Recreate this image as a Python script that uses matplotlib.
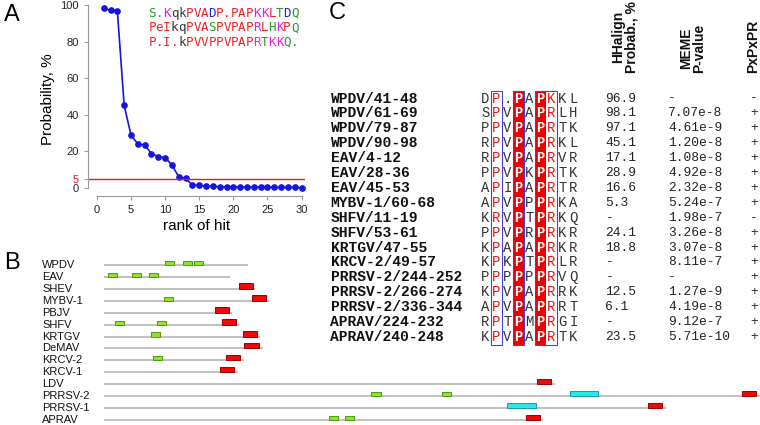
import numpy as np
import matplotlib
matplotlib.use("Agg")
from matplotlib import pyplot as plt
from matplotlib.patches import Rectangle

plt.rcParams['font.family'] = ['Liberation Sans', 'DejaVu Sans']

# ---- panel A data ----
ranks = np.arange(1, 31)
probs = [98.1, 97.1, 96.9, 45.1, 28.9, 24.1, 23.5, 18.8, 17.1, 16.6, 12.5, 6.1,
         5.3, 1.5, 1.4, 1.0, 0.8, 0.7, 0.6, 0.6, 0.5, 0.5, 0.5, 0.4, 0.4, 0.3,
         0.3, 0.3, 0.3, 0.2]
cutoff = 5
hmm_lines = ["S.KqkPVADP.PAPKKLTDQ", "PeIkqPVASPVPAPRLHKPQ", "P.I.kPVVPPVPAPRTKKQ."]
hmm_colors = ["ggmkkrrrbrrrrrmmrgbg", "rrrkkrrrgrrrrrmrgmrg", "rrrrkrrrrrrrrrmgmmgg"]
cmap = {'r': '#EE2020', 'g': '#2A992A', 'm': '#DD22DD', 'b': '#2222CC', 'k': '#333333'}

# ---- panel B data (residue positions) ----
viruses = ["WPDV", "EAV", "SHEV", "MYBV-1", "PBJV", "SHFV", "KRTGV", "DeMAV",
           "KRCV-2", "KRCV-1", "LDV", "PRRSV-2", "PRRSV-1", "APRAV"]
lengths = [144, 126, 151, 165, 128, 135, 156, 159, 140, 134, 451, 690, 562, 439]
green_boxes = {"WPDV": [(61, 69), (79, 87), (90, 98)],
               "EAV": [(4, 12), (28, 36), (45, 53)],
               "MYBV-1": [(60, 68)],
               "SHFV": [(11, 19), (53, 61)],
               "KRTGV": [(47, 55)],
               "KRCV-2": [(49, 57)],
               "PRRSV-2": [(267, 276), (338, 346)],
               "APRAV": [(225, 233), (241, 249)]}
red_boxes = {"SHEV": (135, 149), "MYBV-1": (148, 162), "PBJV": (111, 125),
             "SHFV": (118, 132), "KRTGV": (139, 153), "DeMAV": (140, 155),
             "KRCV-2": (122, 136), "KRCV-1": (116, 130), "LDV": (433, 447),
             "PRRSV-2": (638, 652), "PRRSV-1": (544, 558), "APRAV": (422, 436)}
cyan_boxes = {"PRRSV-2": (466, 494), "PRRSV-1": (403, 432)}

# ---- panel C data ----
names = ["WPDV/41-48", "WPDV/61-69", "WPDV/79-87", "WPDV/90-98", "EAV/4-12",
         "EAV/28-36", "EAV/45-53", "MYBV-1/60-68", "SHFV/11-19", "SHFV/53-61",
         "KRTGV/47-55", "KRCV-2/49-57", "PRRSV-2/244-252", "PRRSV-2/266-274",
         "PRRSV-2/336-344", "APRAV/224-232", "APRAV/240-248"]
seqs = ["DP.PAPKKL", "SPVPAPRLH", "PPVPAPRTK", "RPVPAPRKL", "RPVPAPRVR",
        "PPVPKPRTK", "APIPAPRTR", "APVPPPRKA", "KRVPTPRKQ", "PPVPRPRKR",
        "KPAPAPRKR", "KPKPTPRLR", "PPPPPPRVQ", "KPVPAPRRK", "APVPAPRRT",
        "RPTPMPRGI", "KPVPAPRTK"]
hhalign = ["96.9", "98.1", "97.1", "45.1", "17.1", "28.9", "16.6", "5.3", "-",
           "24.1", "18.8", "-", "-", "12.5", "6.1", "-", "23.5"]
meme = ["-", "7.07e-8", "4.61e-9", "1.20e-8", "1.08e-8", "4.92e-8", "2.32e-8",
        "5.24e-7", "1.98e-7", "3.26e-8", "3.07e-8", "8.11e-7", "-", "1.27e-9",
        "4.19e-8", "9.12e-7", "5.71e-10"]
pxpxpr = ["-", "+", "+", "+", "+", "+", "+", "+", "-", "+", "+", "+", "+", "+",
          "+", "+", "+"]

W, H = 760, 425
fig = plt.figure(figsize=(7.6, 4.25), dpi=100)

# ---------------- A ----------------
ax_a = fig.add_axes([88 / W, 1 - 196 / H, (305 - 88) / W, (196 - 3) / H])
ax_a.plot(ranks, probs, '-o', color='#1414DC', lw=1.2, ms=3.8)
ax_a.axhline(cutoff, color='#EE1515', lw=1)
ax_a.set_xlim(-1.3, 30.5)
ax_a.set_ylim(-4.4, 101.1)
for s in ['top', 'right']:
    ax_a.spines[s].set_visible(False)
ax_a.spines['left'].set_bounds(0, 100)
ax_a.spines['bottom'].set_bounds(0, 30)
for s in ['left', 'bottom']:
    ax_a.spines[s].set_color('#999999')
ax_a.set_xticks([0, 5, 10, 15, 20, 25, 30])
ax_a.set_yticks([0, 5, 20, 40, 60, 80, 100])
ax_a.tick_params(colors='#999999', labelcolor='#222222', labelsize=8, length=3)
ax_a.get_yticklabels()[1].set_color('#EE1515')
ax_a.set_ylabel("Probability, %", fontsize=11, labelpad=4)
ax_a.set_xlabel("rank of hit", fontsize=11, labelpad=3)
ax_a.patch.set_alpha(0)

# ---------------- B ----------------
ax_b = fig.add_axes([104 / W, 0, (W - 104) / W, 170 / H])
rows = np.arange(len(viruses))
ax_b.set_xlim(0, W - 104)
ax_b.set_ylim(13 + 5 / 11.92, -10 / 11.92)
ax_b.axis('off')
ax_b.hlines(rows, 0, lengths, color='#BBBBBB', lw=1.3, zorder=1)
for i, v in enumerate(viruses):
    ax_b.text(-62, i, v, ha='left', va='center', fontsize=8, clip_on=False,
              color='#111111')
    for (a, b) in green_boxes.get(v, []):
        ax_b.barh(i - 0.17, b - a + 1, left=a, height=0.34, color='#8BE52A',
                  edgecolor='#4F9A14', lw=0.7, zorder=2)
    if v in red_boxes:
        a, b = red_boxes[v]
        ax_b.barh(i - 0.23, b - a, left=a, height=0.46, color='#EE0A0A',
                  edgecolor='#A00000', lw=0.7, zorder=2)
    if v in cyan_boxes:
        a, b = cyan_boxes[v]
        ax_b.barh(i - 0.21, b - a, left=a, height=0.42, color='#2CE6EE',
                  edgecolor='#1A9AA0', lw=0.7, zorder=2)

# ---------------- overlay (letters, A motif text, C table) ----------------
ax_o = fig.add_axes([0, 0, 1, 1])
ax_o.set_xlim(0, W)
ax_o.set_ylim(H, 0)
ax_o.axis('off')
ax_o.patch.set_alpha(0)

for lab, x, y in [("A", 4, 15), ("B", 4, 263), ("C", 329, 13)]:
    ax_o.text(x, y, lab, fontsize=17, ha='left', va='center')

for k, (line, cl) in enumerate(zip(hmm_lines, hmm_colors)):
    for j, (ch, c) in enumerate(zip(line, cl)):
        ax_o.text(152 + 7.5 * j, 13 + 14.7 * k, ch, ha='center', va='center',
                  family='DejaVu Sans Mono', fontsize=9, color=cmap[c])

row_y = 98.5 + 14.9 * np.arange(len(names))
col_x = 485.5 + 11.0 * np.arange(9)
top, bot = 90.7, 344.5

# red filled columns
for j in (3, 5):
    ax_o.add_patch(Rectangle((col_x[j] - 5.3, top), 10.6, bot - top,
                             facecolor='#EE0000', edgecolor='none', zorder=1))
# blue boxes
for j0, j1 in [(1, 1), (3, 3), (5, 6)]:
    ax_o.add_patch(Rectangle((col_x[j0] - 5.3, top), col_x[j1] - col_x[j0] + 10.6,
                             bot - top, facecolor='none', edgecolor='#4444CC',
                             lw=0.8, zorder=3))

mono = 'Liberation Mono'
for i in range(len(names)):
    y = row_y[i]
    ax_o.text(330.5, y, names[i], ha='left', va='center', family=mono,
              weight='bold', fontsize=10.5, color='#111111')
    for j, ch in enumerate(seqs[i]):
        if j in (3, 5):
            ax_o.text(col_x[j], y, ch, ha='center', va='center', family=mono,
                      weight='bold', fontsize=10, color='white', zorder=2)
        elif j in (1, 6):
            ax_o.text(col_x[j], y, ch, ha='center', va='center', family=mono,
                      fontsize=10, color='#EE1111', zorder=2)
        else:
            ax_o.text(col_x[j], y, ch, ha='center', va='center', family=mono,
                      fontsize=10, color='#333333', zorder=2)
    ax_o.text(605.5, y, hhalign[i], ha='left', va='center', family=mono,
              fontsize=9.3, color='#222222')
    ax_o.text(668, y, meme[i], ha='left', va='center', family=mono,
              fontsize=9.3, color='#222222')
    ax_o.text(754, y, pxpxpr[i], ha='center', va='center', family=mono,
              fontsize=9.3, color='#222222')

for txt, x in [("HHalign\nProbab., %", 625), ("MEME\nP-value", 693), ("PxPxPR", 753)]:
    ax_o.text(x, 73, txt, rotation=90, ha='center', va='bottom', fontsize=10,
              weight='bold', linespacing=0.9, color='#111111')

fig.savefig("out.png", dpi=100)
